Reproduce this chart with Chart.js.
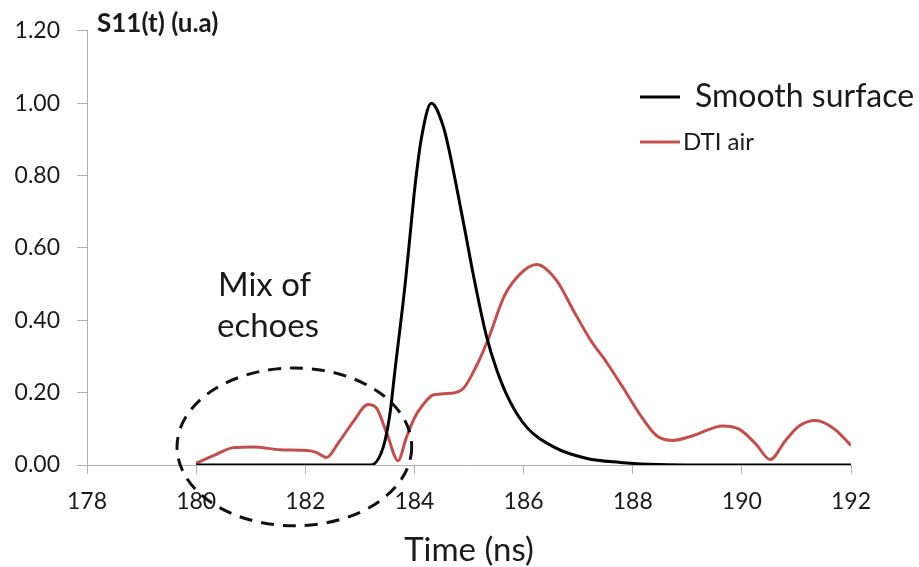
<!DOCTYPE html>
<html><head><meta charset="utf-8">
<script src="https://cdn.jsdelivr.net/npm/chart.js@4/dist/chart.umd.min.js"></script>
<style>html,body{margin:0;padding:0;background:#fff}#wrap{width:919px;height:567px}</style>
</head><body><div id="wrap"><canvas id="c" width="919" height="567"></canvas></div>
<script>
// ---- data ----
const xTickValues = [178, 180, 182, 184, 186, 188, 190, 192];
const yTickValues = [0, 0.2, 0.4, 0.6, 0.8, 1.0, 1.2];
const seriesLabels = ['Smooth surface', 'DTI air'];
const smoothTime   = [180, 181, 182, 183, 183.2, 183.43, 183.55, 183.64, 183.83, 183.92, 184.01, 184.13, 184.31, 184.53, 184.65, 184.77, 184.93, 185.08, 185.32, 185.51, 185.75, 186.06, 186.55, 187.16, 187.77, 188.3, 189, 190, 191, 192];
const smoothValues = [0, 0, 0, 0, 0, 0.05, 0.14, 0.257, 0.5, 0.635, 0.77, 0.905, 1.0, 0.935, 0.86, 0.77, 0.645, 0.525, 0.356, 0.262, 0.176, 0.104, 0.05, 0.018, 0.007, 0.002, 0, 0, 0, 0];
const dtiTime   = [180.0, 180.35, 180.68, 181.05, 181.54, 182.03, 182.2, 182.39, 182.6, 182.88, 183.15, 183.3, 183.5, 183.7, 183.85, 184.0, 184.15, 184.35, 184.65, 184.9, 185.14, 185.35, 185.65, 185.93, 186.24, 186.61, 186.91, 187.22, 187.52, 187.83, 188.13, 188.44, 188.74, 189.1, 189.65, 189.95, 190.25, 190.52, 190.8, 191.05, 191.35, 191.7, 192.0];
const dtiValues = [0.005, 0.028, 0.048, 0.05, 0.042, 0.04, 0.035, 0.021, 0.06, 0.12, 0.167, 0.158, 0.085, 0.012, 0.075, 0.13, 0.165, 0.194, 0.198, 0.212, 0.275, 0.347, 0.468, 0.527, 0.554, 0.509, 0.428, 0.347, 0.284, 0.212, 0.14, 0.081, 0.068, 0.081, 0.108, 0.099, 0.059, 0.015, 0.068, 0.108, 0.123, 0.099, 0.054];
const yAxisTitle = 'S11(t) (u.a)';
const xAxisTitle = 'Time (ns)';
const annotationLines = ['Mix of', 'echoes'];
// annotation ellipse in data units: center x, center y, radius x, radius y
const echoCenter = [181.8, 0.05];
const echoRadius = [2.15, 0.218];

const FONT = 'Lato';
const TXT = '#1a1a1a';
const AXIS = '#b0b0b0';

const toPoints = (xs, ys) => xs.map((x, i) => ({x: x, y: ys[i]}));

const overlay = {
  id: 'overlay',
  afterDraw(chart) {
    const ctx = chart.ctx, xs = chart.scales.x, ys = chart.scales.y;
    ctx.save();
    // dashed ellipse
    const cx = xs.getPixelForValue(echoCenter[0]), cy = ys.getPixelForValue(echoCenter[1]);
    const rx = xs.getPixelForValue(echoCenter[0] + echoRadius[0]) - cx;
    const ry = cy - ys.getPixelForValue(echoCenter[1] + echoRadius[1]);
    ctx.beginPath();
    ctx.setLineDash([13, 9]);
    ctx.lineWidth = 3;
    ctx.strokeStyle = '#111';
    ctx.ellipse(cx, cy, rx, ry, 0, 0, Math.PI * 2);
    ctx.stroke();
    ctx.setLineDash([]);
    // annotation text
    ctx.fillStyle = TXT;
    ctx.textBaseline = 'middle';
    ctx.textAlign = 'left';
    ctx.font = '33px ' + FONT;
    ctx.fillText(annotationLines[0], 218, 285);
    ctx.fillText(annotationLines[1], 217, 326);
    // y axis title
    ctx.font = 'bold 26px ' + FONT;
    ctx.fillText(yAxisTitle, 97, 24);
    // legend
    const ds = chart.data.datasets;
    const rows = [{y: 97, size: 32, tx: 695}, {y: 142, size: 24, tx: 683}];
    ds.forEach((d, i) => {
      const r = rows[i];
      ctx.beginPath();
      ctx.strokeStyle = d.borderColor;
      ctx.lineWidth = 3;
      ctx.moveTo(640, r.y); ctx.lineTo(680, r.y);
      ctx.stroke();
      ctx.font = r.size + 'px ' + FONT;
      ctx.fillStyle = TXT;
      ctx.fillText(d.label, r.tx, r.y);
    });
    ctx.restore();
  }
};

new Chart(document.getElementById('c'), {
  type: 'line',
  data: {
    datasets: [
      {label: seriesLabels[0], data: toPoints(smoothTime, smoothValues), borderColor: '#000000', borderWidth: 3, pointRadius: 0, cubicInterpolationMode: 'monotone', fill: false},
      {label: seriesLabels[1], data: toPoints(dtiTime, dtiValues), borderColor: '#c0504d', borderWidth: 3, pointRadius: 0, cubicInterpolationMode: 'monotone', fill: false}
    ]
  },
  options: {
    responsive: false,
    animation: false,
    devicePixelRatio: 1,
    layout: {padding: {left: 0, top: 21, right: 68, bottom: 0}},
    plugins: {legend: {display: false}, tooltip: {enabled: false}, title: {display: false}},
    scales: {
      x: {
        type: 'linear', min: 178, max: 192,
        afterBuildTicks: s => { s.ticks = xTickValues.map(v => ({value: v})); },
        ticks: {color: TXT, font: {family: FONT, size: 23}, padding: 14, callback: v => String(v)},
        grid: {drawOnChartArea: false, drawTicks: true, tickLength: 9, color: AXIS},
        border: {color: AXIS, width: 1},
        title: {display: true, text: xAxisTitle, color: TXT, font: {family: FONT, size: 33}, padding: {top: 0, bottom: -3}},
        afterFit: s => { s.height = 102; }
      },
      y: {
        type: 'linear', min: 0, max: 1.2,
        afterBuildTicks: s => { s.ticks = yTickValues.map(v => ({value: v})); },
        ticks: {color: TXT, font: {family: FONT, size: 23}, padding: 17, callback: v => Number(v).toFixed(2)},
        grid: {drawOnChartArea: false, drawTicks: true, tickLength: 10, color: AXIS},
        border: {color: AXIS, width: 1},
        afterFit: s => { s.width = 87; }
      }
    }
  },
  plugins: [overlay]
});
</script>
</body></html>
